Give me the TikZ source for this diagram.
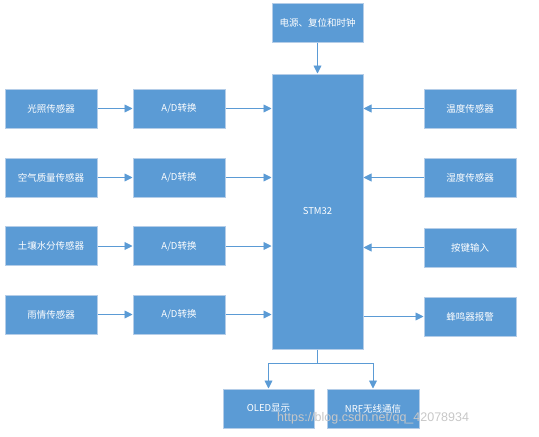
\documentclass[tikz,border=0pt]{standalone}
\usepackage{fontspec}
\setmainfont{Noto Sans CJK SC}
\newfontfamily\wmfont{Liberation Sans}
\usetikzlibrary{arrows.meta}
\definecolor{boxfill}{HTML}{5B9BD5}
\definecolor{boxedge}{HTML}{B4CDE8}
\definecolor{linec}{HTML}{5B9BD5}
\begin{document}
\begin{tikzpicture}[x=1pt,y=-1pt,
  box/.style={draw=boxedge,line width=1pt,fill=boxfill,text=white,
    minimum width=92pt,minimum height=39pt,inner sep=0pt,
    font=\fontsize{9.5}{11}\selectfont},
  conn/.style={draw=linec,line width=0.9pt,-{Triangle[length=8pt,width=8pt]}}]
\useasboundingbox (0,0) rectangle (539,437);
% central and top
\node[box,minimum width=91pt] (pwr) at (317.5,22.5) {电源、复位和时钟};
\node[box,minimum width=91pt,minimum height=275pt] (stm) at (317.5,211.5) {STM32};
% left sensors
\node[box] (l1) at (51,108.5) {光照传感器};
\node[box] (l2) at (51,177.5) {空气质量传感器};
\node[box] (l3) at (51,246) {土壤水分传感器};
\node[box] (l4) at (51,314.5) {雨情传感器};
% A/D
\node[box] (a1) at (179,108.5) {A/D转换};
\node[box] (a2) at (179,177.5) {A/D转换};
\node[box] (a3) at (179,246) {A/D转换};
\node[box] (a4) at (179,314.5) {A/D转换};
% right
\node[box] (r1) at (470,108.5) {温度传感器};
\node[box] (r2) at (470,177.5) {湿度传感器};
\node[box] (r3) at (470,247.5) {按键输入};
\node[box] (r4) at (470,316.5) {蜂鸣器报警};
% bottom
\node[box,minimum width=91pt] (oled) at (268.5,408.5) {OLED显示};
\node[box] (nrf) at (373,408.5) {NRF无线通信};
% connectors
\draw[conn] (pwr) -- (stm);
\foreach \i in {1,2,3,4}{
  \draw[conn] (l\i.east) -- (a\i.west);
  \draw[conn] (a\i.east) -- (a\i.east -| stm.west);
}
\foreach \i in {1,2,3}{
  \draw[conn] (r\i.west) -- (r\i.west -| stm.east);
}
\draw[conn] (stm.east |- r4.west) -- (r4.west);
\coordinate (split) at ([yshift=-14pt]stm.south);
\draw[draw=linec,line width=0.9pt] (stm.south) -- (split);
\draw[conn] (split) -| (oled.north);
\draw[conn] (split) -| (nrf.north);
% watermark
\node[text=black!22,font=\wmfont\fontsize{12.5}{14}\selectfont,inner sep=0pt,anchor=west] (wm) at (277,418) {https://blog.csdn.net/qq\_42078934};
\end{tikzpicture}
\end{document}
